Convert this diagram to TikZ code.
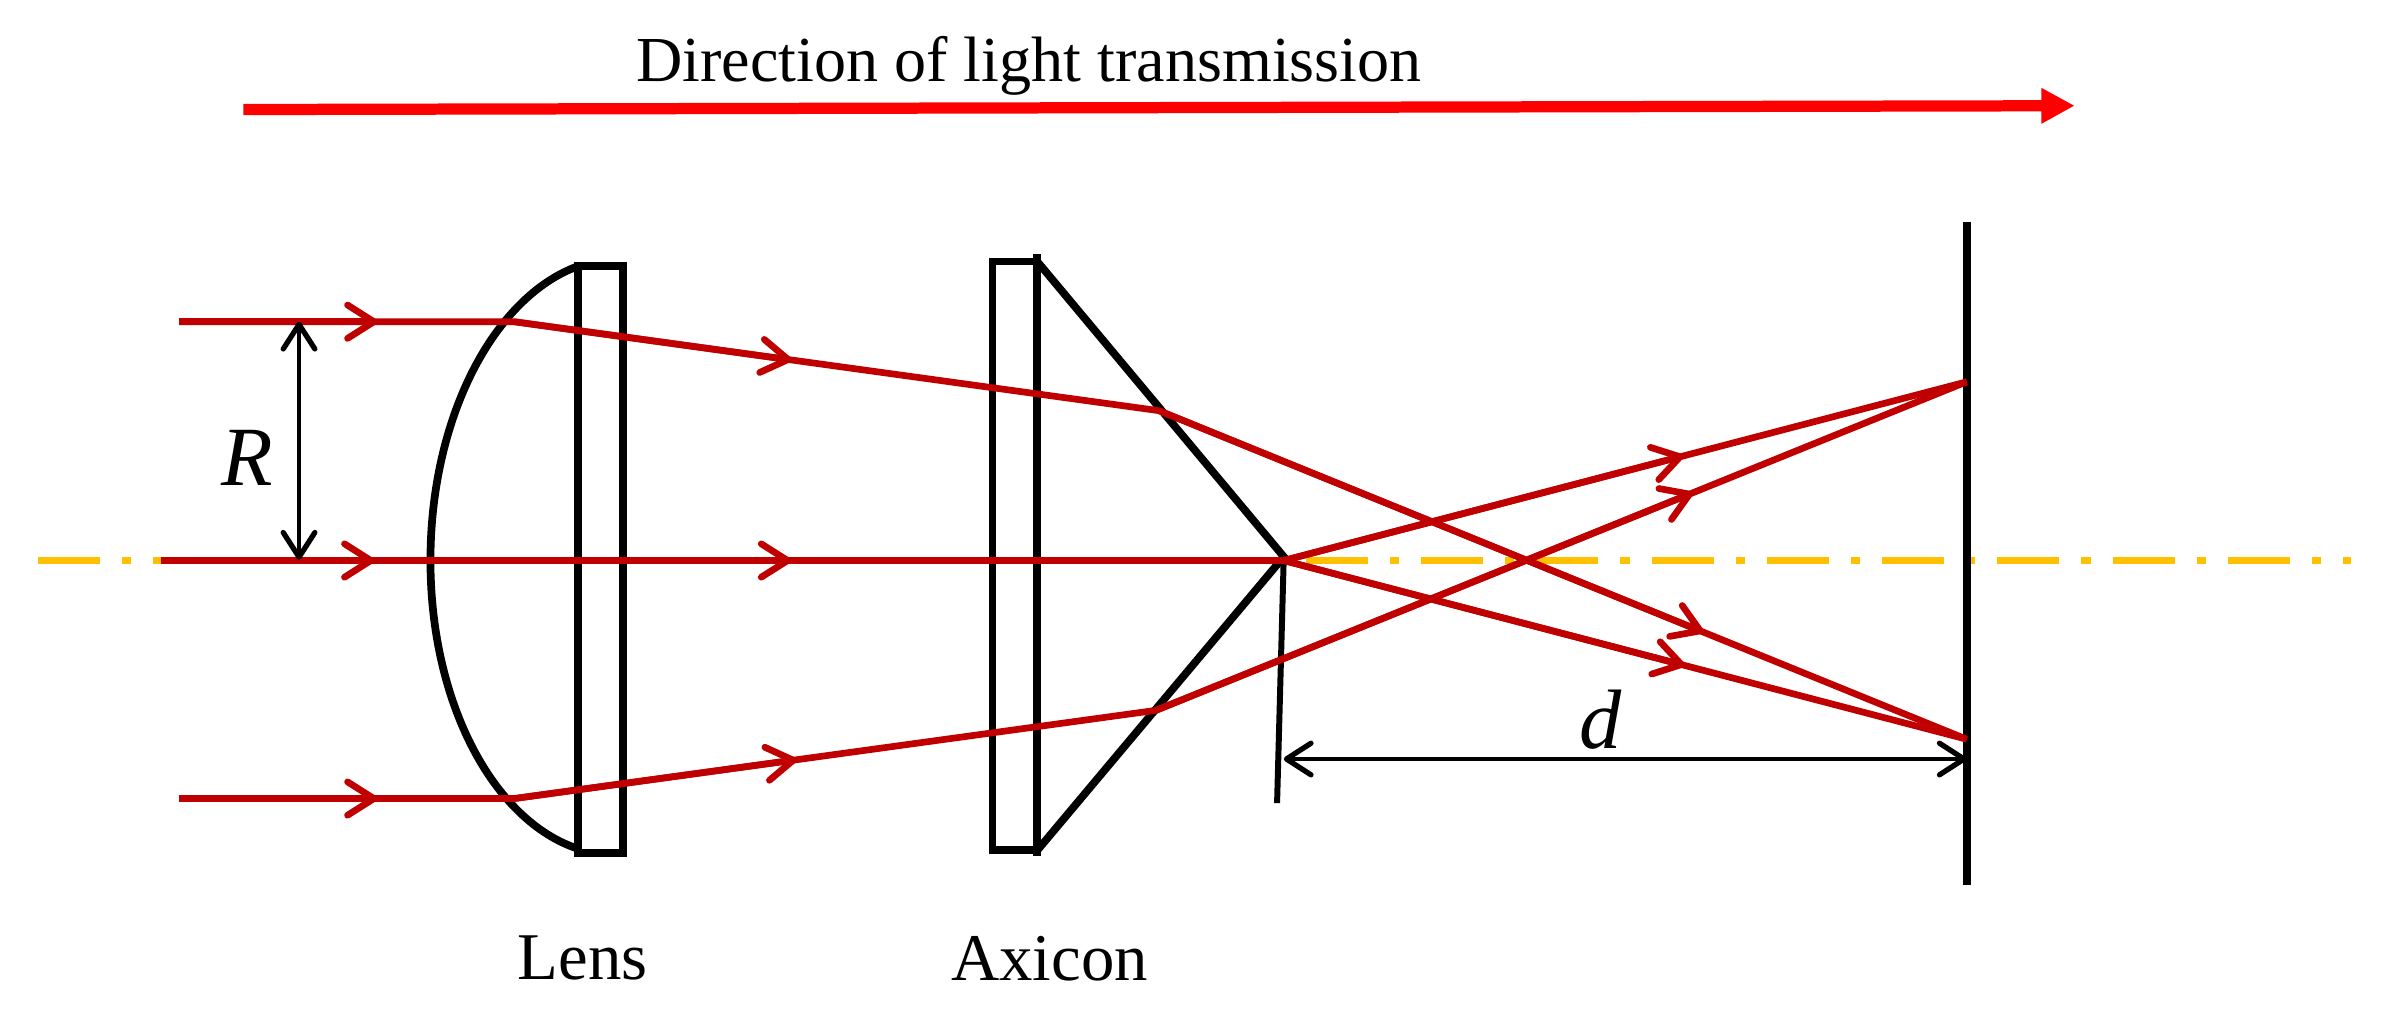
\documentclass[tikz,border=0pt]{standalone}
\usepackage{fontspec}
\setmainfont{Liberation Serif}
\usetikzlibrary{arrows.meta,calc}
\definecolor{raycol}{HTML}{C00000}
\definecolor{axiscol}{HTML}{FFC000}
\tikzset{
  optic/.style={line width=2.2pt,black},
  ray/.style={line width=1.9pt,raycol},
  raytip/.style={ray,-{Straight Barb[round,length=7.5pt,width=9.5pt,line width=1.9pt]}},
  dimline/.style={line width=1.4pt,black,{Straight Barb[round,length=7pt,width=9pt,line width=1.5pt]}-{Straight Barb[round,length=7pt,width=9pt,line width=1.5pt]}},
  caption/.style={inner sep=0pt,font=\fontsize{18.25}{22}\selectfont},
  undercap/.style={caption,font=\fontsize{19}{22}\selectfont},
  symb/.style={inner sep=0pt,font=\fontsize{24}{28}\selectfont\itshape}
}
\begin{document}
\begin{tikzpicture}[x=0.01521cm,y=-0.01521cm]
  \useasboundingbox (0,0) rectangle (1568,665.3);
  % top arrow
  \coordinate (dirL) at (160,72);
  \coordinate (dirR) at (1364,69.5);
  \node[caption] (dirtext) at (676.5,43.5) {Direction of light transmission};
  \draw[line width=3.2pt,red,-{Triangle[length=9.5pt,width=9.5pt]}] (dirL) -- (dirR);
  % axis
  \coordinate (axL) at (25,368.5);
  \coordinate (axR) at (1545.7,368.5);
  \draw[line width=1.9pt,axiscol,dash pattern=on 17.6pt off 6.3pt on 2.6pt off 6.3pt] (axL) -- (axR);
  % lens
  \coordinate (lensT) at (380,175);
  \coordinate (lensB) at (380,558);
  \coordinate (lensM) at (283,368.5);
  \draw[optic] (380,175) rectangle (409.5,561);
  \draw[optic] (lensT) .. controls (325,195) and (283,274) .. (lensM)
    .. controls (283,463) and (325,540) .. (lensB);
  % axicon
  \coordinate (axiT) at (682,172);
  \coordinate (axiB) at (682,559);
  \coordinate (tipA) at (844,366);
  \coordinate (tipB) at (839.6,528);
  \draw[optic] (652.5,172) rectangle (682,559);
  \draw[optic] (682,167) -- (682,563);
  \draw[optic] (axiT) -- (tipA) -- (axiB);
  \draw[optic,line width=1.7pt] (tipA) -- (tipB);
  % screen
  \coordinate (scrT) at (1293,146);
  \coordinate (scrB) at (1293,582);
  \coordinate (hitT) at (1293,251);
  \coordinate (hitB) at (1293,486);
  \draw[optic] (scrT) -- (scrB);
  % rays
  \coordinate (inT) at (118,211.5);
  \coordinate (inM) at (106,368.5);
  \coordinate (inB) at (118,525);
  \coordinate (lenT) at (338,211.5);
  \coordinate (lenB) at (338,525);
  \coordinate (coneT) at (762,270);
  \coordinate (coneB) at (760,467);
  \coordinate (tipR) at (844,368.5);
  \draw[ray] (inT) -- (lenT) -- (coneT) -- (hitB);
  \draw[ray] (inB) -- (lenB) -- (coneB) -- (hitT);
  \draw[ray] (inM) -- (tipR) -- (hitT);
  \draw[ray] (tipR) -- (hitB);
  % arrows on the rays
  \draw[raytip] (inT) -- (248,211.5);
  \draw[raytip] (inM) -- (246,368.5);
  \draw[raytip] (inB) -- (248,525);
  \draw[raytip] (lenT) -- ($(lenT)!0.43!(coneT)$);
  \draw[raytip] (inM) -- (520,368.5);
  \draw[raytip] (lenB) -- ($(lenB)!0.44!(coneB)$);
  \draw[raytip] (tipR) -- ($(tipR)!0.585!(hitT)$);
  \draw[raytip] (coneB) -- ($(coneB)!0.662!(hitT)$);
  \draw[raytip] (coneT) -- ($(coneT)!0.674!(hitB)$);
  \draw[raytip] (tipR) -- ($(tipR)!0.587!(hitB)$);
  % dimensions
  \coordinate (rT) at (196.6,211.5);
  \coordinate (rB) at (196.6,368);
  \coordinate (dL) at (844,499);
  \coordinate (dR) at (1293,499);
  \draw[dimline] (rT) -- (rB);
  \draw[dimline] (dL) -- (dR);
  \node[symb] (rlabel) at (162.7,301) {R};
  \node[symb] (dlabel) at (1052,473) {d};
  % captions
  \node[undercap] (lenslabel) at (383,630) {Lens};
  \node[undercap] (axilabel) at (690,630) {Axicon};
\end{tikzpicture}
\end{document}
